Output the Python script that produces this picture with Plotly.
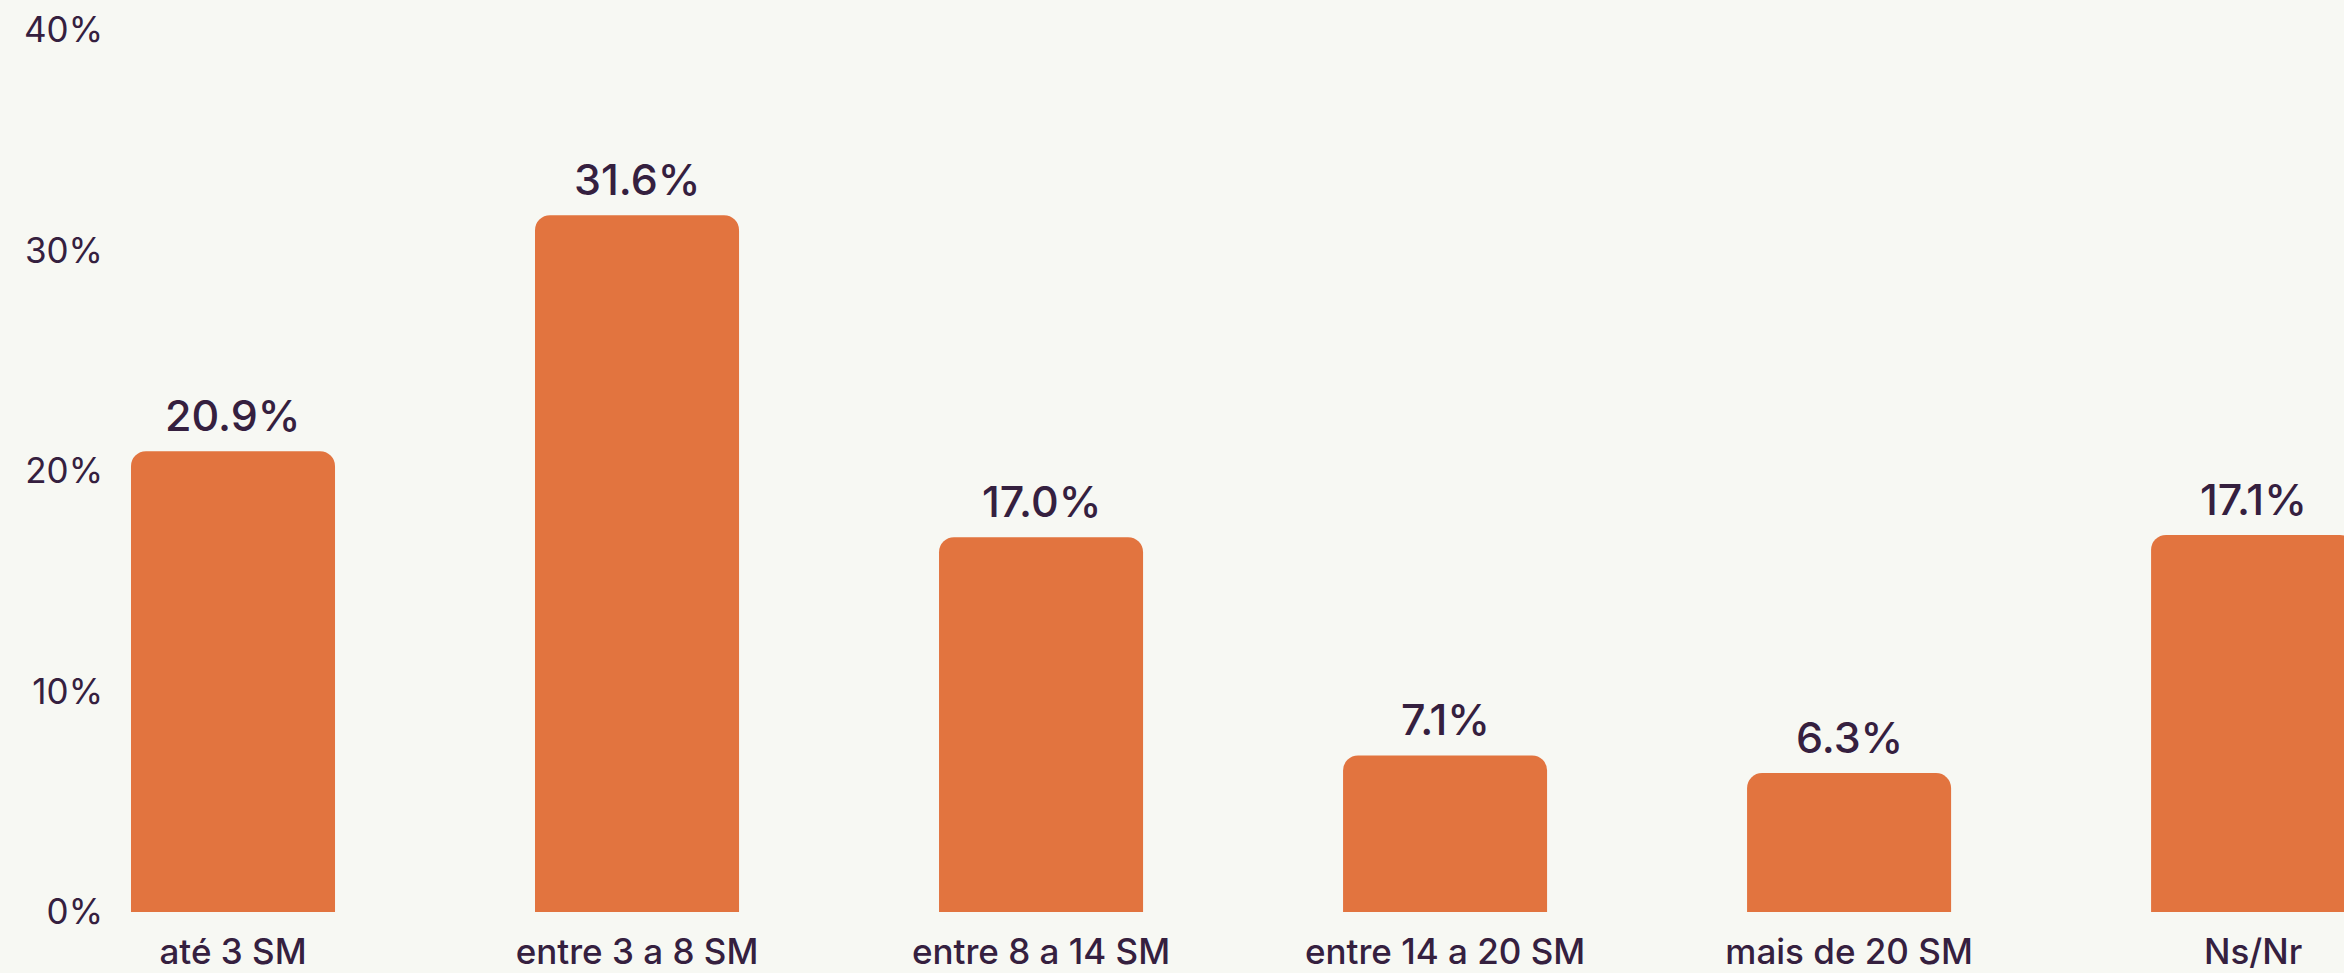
import plotly.graph_objects as go

categories = ["até 3 SM", "entre 3 a 8 SM", "entre 8 a 14 SM", "entre 14 a 20 SM", "mais de 20 SM", "Ns/Nr"]
values = [20.9, 31.6, 17.0, 7.1, 6.3, 17.1]
y_ticks = [0, 10, 20, 30, 40]
y_tick_labels = ["0%", "10%", "20%", "30%", "40%"]

BAR = "#E2743F"
TXT = "#35203F"
BG = "#F7F8F3"
FONT = "Inter, Lato, 'Open Sans', sans-serif"

x_idx = list(range(len(categories)))

fig = go.Figure()
fig.add_trace(go.Bar(
    x=x_idx, y=values, width=0.505,
    marker=dict(color=BAR, cornerradius=15, line=dict(width=0)),
    hoverinfo="skip",
))

for i, v in zip(x_idx, values):
    fig.add_annotation(x=i, y=v, text=f"{v:.1f}%", showarrow=False,
                       yanchor="bottom", yshift=8,
                       font=dict(family=FONT, size=43, color=TXT, weight=500))

fig.update_layout(
    width=2344, height=973,
    margin=dict(l=110, r=0, t=30, b=61),
    paper_bgcolor=BG, plot_bgcolor=BG,
    showlegend=False,
    font=dict(family=FONT, color=TXT),
    xaxis=dict(
        range=[-0.5 + 79/404, 5.225],
        tickmode="array", tickvals=x_idx, ticktext=categories,
        tickfont=dict(family=FONT, size=35, color=TXT, weight=500),
        showgrid=False, zeroline=False, showline=False, ticks="",
        ticklabelstandoff=16,
    ),
    yaxis=dict(
        range=[0, 40],
        tickmode="array", tickvals=y_ticks, ticktext=y_tick_labels,
        tickfont=dict(family=FONT, size=35, color=TXT),
        showgrid=False, zeroline=False, showline=False, ticks="",
        ticklabelstandoff=6,
    ),
)

fig.write_html("out.html")
